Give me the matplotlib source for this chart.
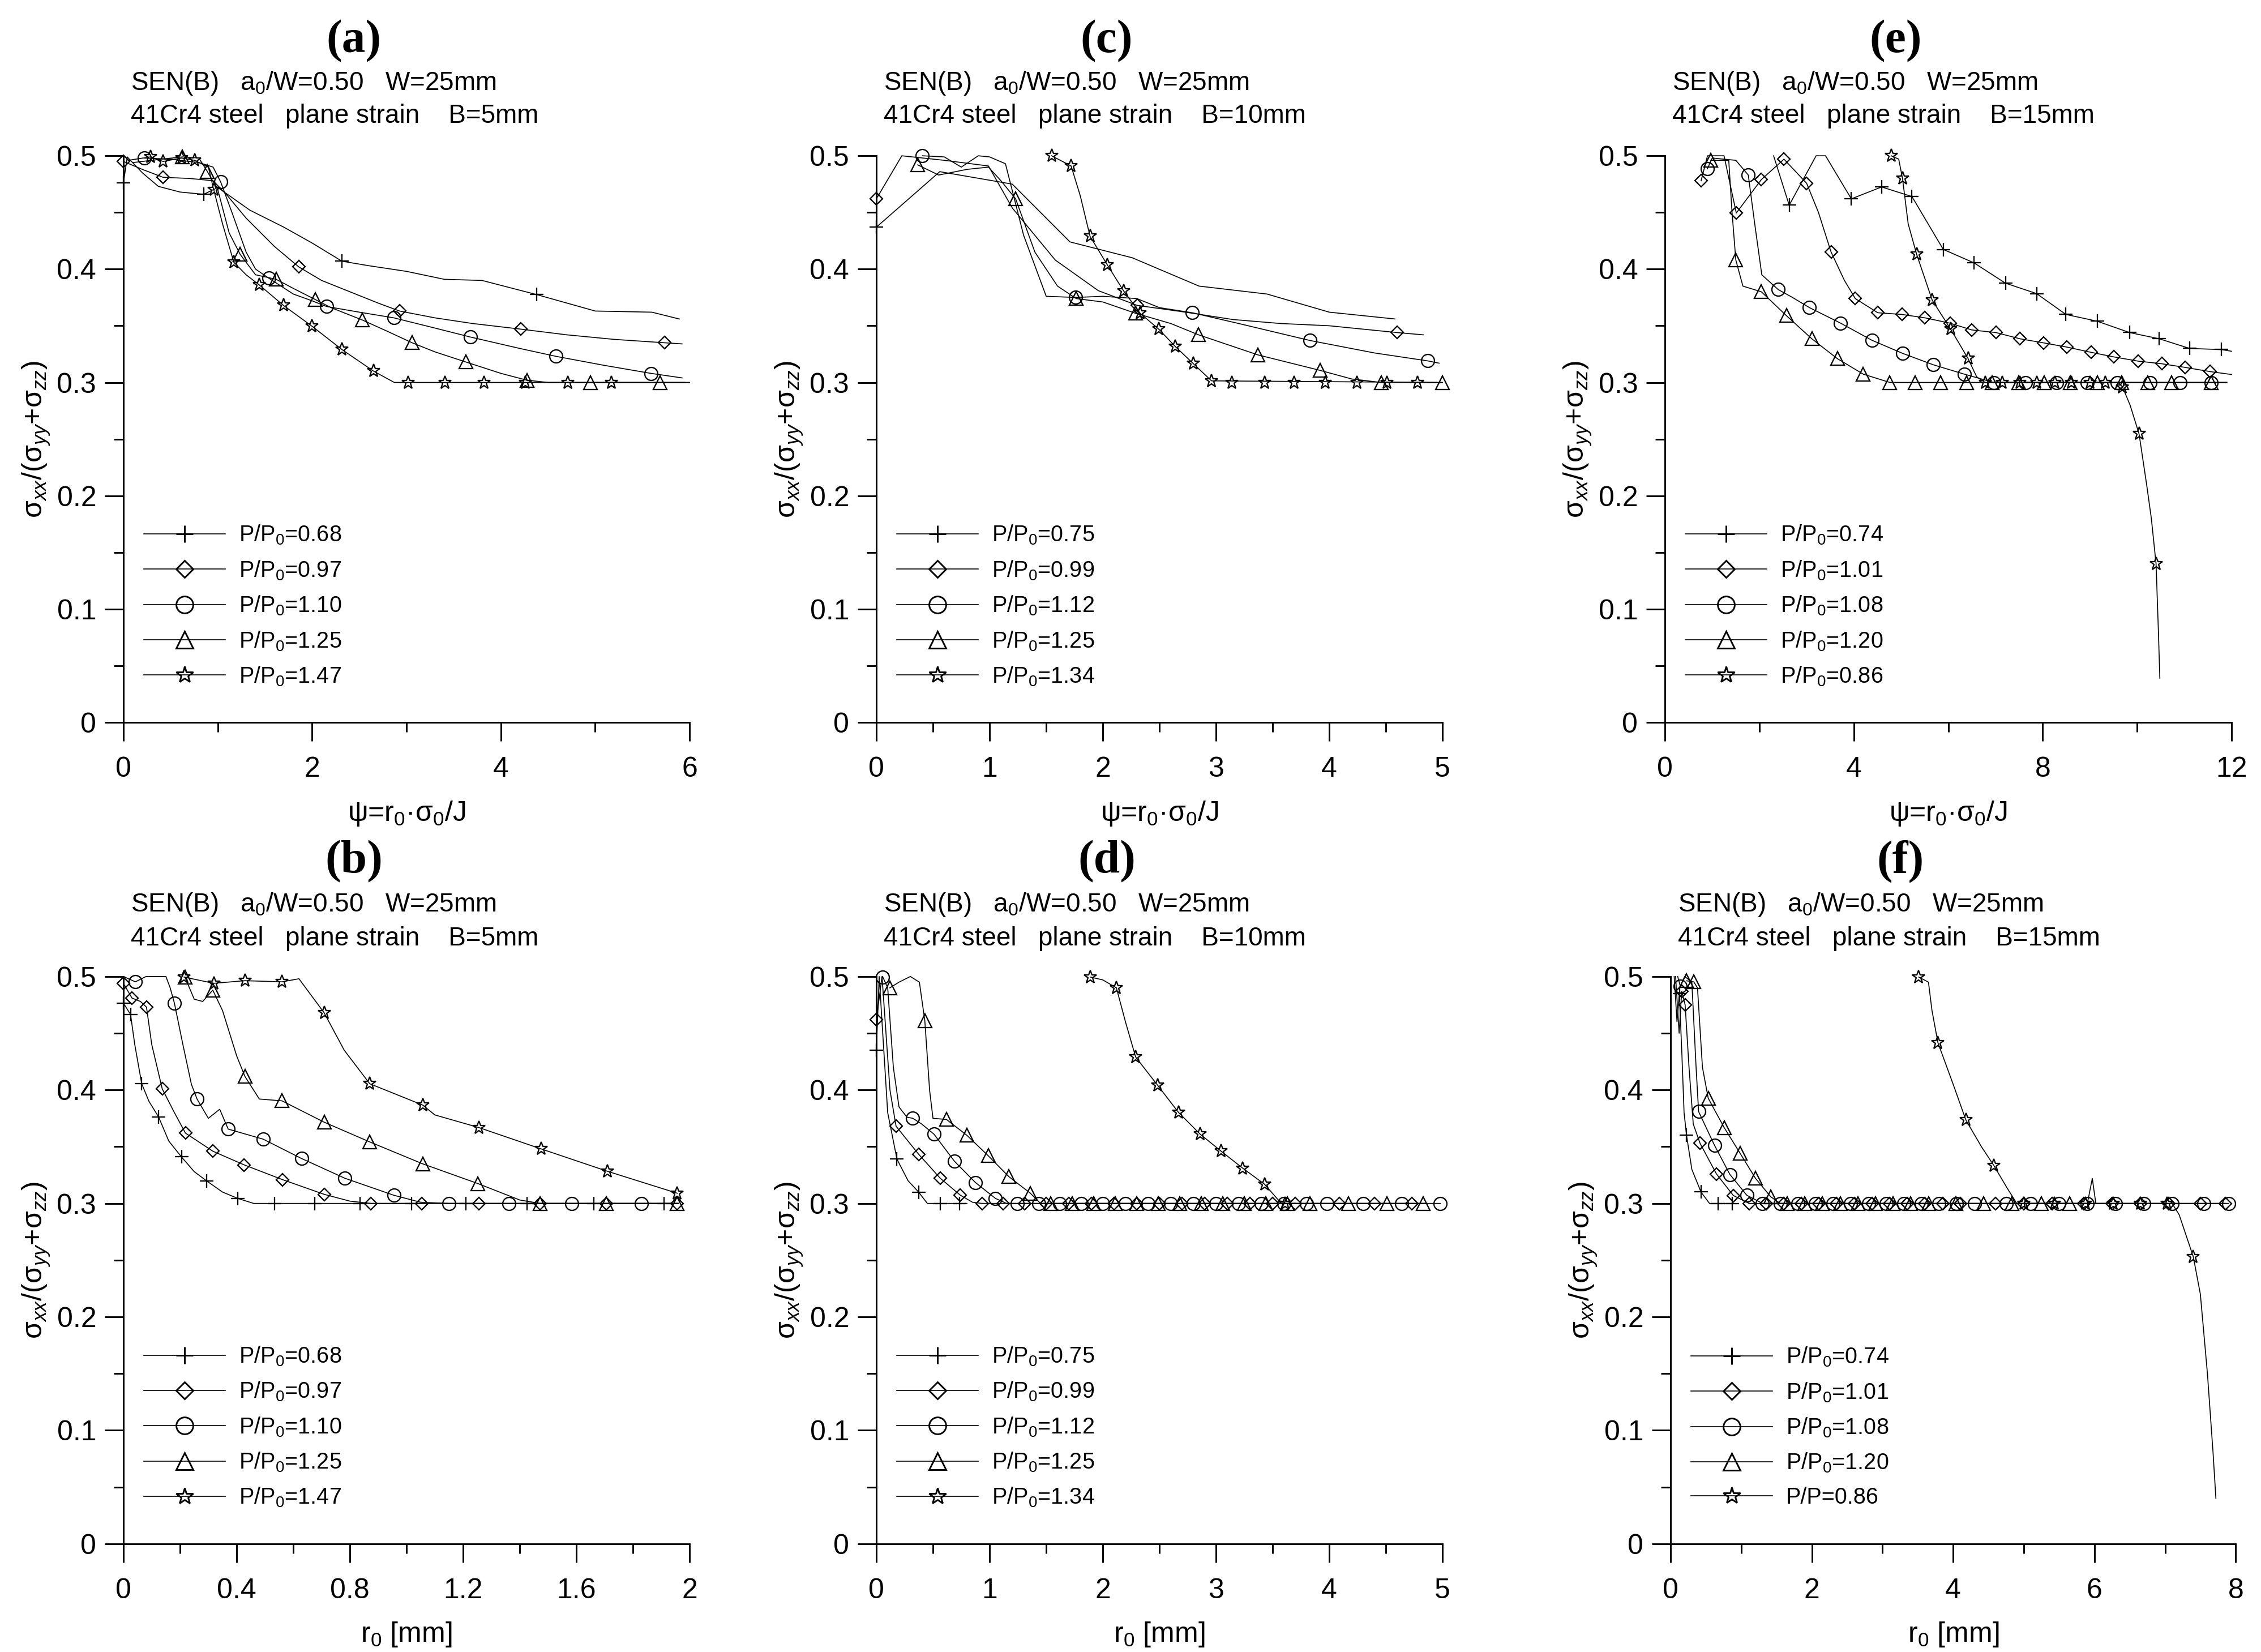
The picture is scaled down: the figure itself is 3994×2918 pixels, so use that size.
import numpy as np
import matplotlib.pyplot as plt
from matplotlib.lines import Line2D
from matplotlib.ticker import MultipleLocator, FuncFormatter

plt.rcParams['font.family'] = ['Liberation Sans', 'DejaVu Sans']
plt.rcParams['mathtext.fontset'] = 'custom'
plt.rcParams['mathtext.rm'] = 'Liberation Sans'
plt.rcParams['mathtext.it'] = 'Liberation Sans:italic'
plt.rcParams['mathtext.bf'] = 'Liberation Sans:bold'

# ---------------- panel (a): psi, B=5mm ----------------
a_labels = ['0.68', '0.97', '1.10', '1.25', '1.47']
a_x = [[0, 0.04, 0.2, 0.37, 0.6, 0.85, 1.0, 1.34, 1.7, 2.0, 2.315, 2.6, 3.0, 3.4, 3.8, 4.38, 5.0, 5.6, 5.89],
       [0, 0.2, 0.42, 0.7, 0.95, 1.1, 1.3, 1.6, 1.857, 2.1, 2.4, 2.7, 2.926, 3.3, 3.7, 4.214, 4.7, 5.2, 5.735, 5.92],
       [0.22, 0.5, 0.8, 0.95, 1.03, 1.15, 1.3, 1.4, 1.54, 1.8, 2.0, 2.153, 2.5, 2.865, 3.3, 3.68, 4.2, 4.585, 5.1, 5.59, 5.92],
       [0.1, 0.4, 0.626, 0.8, 0.89, 1.0, 1.12, 1.237, 1.4, 1.618, 1.8, 2.036, 2.2, 2.534, 2.8, 3.059, 3.3, 3.63, 4.0, 4.275, 4.5, 5.69, 5.95],
       [0.05, 0.285, 0.42, 0.616, 0.753, 0.9, 0.957, 1.05, 1.17, 1.3, 1.44, 1.695, 2.0, 2.316, 2.65, 2.87, 6.0]]
a_y = [[0.476, 0.499, 0.485, 0.473, 0.468, 0.466, 0.472, 0.452, 0.437, 0.423, 0.407, 0.403, 0.398, 0.391, 0.39, 0.3775, 0.363, 0.362, 0.356],
       [0.495, 0.488, 0.481, 0.48, 0.478, 0.465, 0.445, 0.42, 0.402, 0.39, 0.38, 0.37, 0.363, 0.357, 0.352, 0.347, 0.342, 0.338, 0.335, 0.334],
       [0.498, 0.497, 0.494, 0.49, 0.477, 0.45, 0.415, 0.4, 0.392, 0.378, 0.372, 0.367, 0.362, 0.357, 0.348, 0.34, 0.33, 0.323, 0.315, 0.308, 0.304],
       [0.494, 0.497, 0.499, 0.498, 0.486, 0.47, 0.432, 0.413, 0.395, 0.391, 0.383, 0.373, 0.366, 0.355, 0.345, 0.335, 0.327, 0.318, 0.308, 0.302, 0.3, 0.3, 0.3],
       [0.496, 0.499, 0.495, 0.498, 0.496, 0.49, 0.47, 0.44, 0.406, 0.395, 0.386, 0.368, 0.3495, 0.329, 0.31, 0.3, 0.3]]
a_mx = [[0, 0.85, 2.315, 4.38],
        [0, 0.42, 1.857, 2.926, 4.214, 5.735],
        [0.22, 1.03, 1.54, 2.153, 2.865, 3.68, 4.585, 5.59],
        [0.626, 0.89, 1.237, 1.618, 2.036, 2.534, 3.059, 3.63, 4.275, 4.95, 5.69],
        [0.285, 0.42, 0.616, 0.753, 0.957, 1.17, 1.44, 1.695, 2.0, 2.316, 2.65, 3.02, 3.41, 3.82, 4.26, 4.71, 5.17]]
a_my = [[0.476, 0.466, 0.407, 0.3775],
        [0.495, 0.481, 0.402, 0.363, 0.347, 0.335],
        [0.498, 0.477, 0.392, 0.367, 0.357, 0.34, 0.323, 0.308],
        [0.499, 0.486, 0.413, 0.391, 0.373, 0.355, 0.335, 0.318, 0.302, 0.3, 0.3],
        [0.499, 0.495, 0.498, 0.496, 0.47, 0.406, 0.386, 0.368, 0.3495, 0.329, 0.31, 0.3, 0.3, 0.3, 0.3, 0.3, 0.3]]

# ---------------- panel (c): psi, B=10mm ----------------
c_labels = ['0.75', '0.99', '1.12', '1.25', '1.34']
c_x = [[0, 0.56, 1.2, 1.45, 1.71, 2.26, 2.85, 3.45, 4.0, 4.58],
       [0, 0.225, 0.6, 0.99, 1.2, 1.58, 1.96, 2.303, 2.73, 3.15, 3.57, 4.0, 4.6, 4.83],
       [0.407, 0.6, 0.75, 0.9, 1.0, 1.14, 1.3, 1.5, 1.76, 2.0, 2.3, 2.5, 2.79, 3.2, 3.83, 4.4, 4.87, 4.97],
       [0.365, 0.55, 0.8, 0.99, 1.1, 1.23, 1.4, 1.6, 1.765, 2.0, 2.29, 2.6, 2.846, 3.37, 3.92, 4.2, 4.457, 5.0],
       [1.548, 1.72, 1.8, 1.887, 2.04, 2.184, 2.33, 2.494, 2.64, 2.8, 2.96, 4.95]]
c_y = [[0.437, 0.486, 0.475, 0.45, 0.424, 0.41, 0.385, 0.378, 0.362, 0.356],
       [0.462, 0.5, 0.496, 0.491, 0.454, 0.408, 0.381, 0.368, 0.362, 0.3555, 0.352, 0.35, 0.344, 0.342],
       [0.5, 0.499, 0.49, 0.5, 0.499, 0.493, 0.43, 0.376, 0.375, 0.376, 0.374, 0.366, 0.3615, 0.352, 0.337, 0.326, 0.319, 0.317],
       [0.492, 0.483, 0.488, 0.49, 0.478, 0.462, 0.415, 0.385, 0.374, 0.371, 0.361, 0.352, 0.342, 0.3243, 0.3106, 0.303, 0.3, 0.3],
       [0.5, 0.491, 0.465, 0.429, 0.4037, 0.3807, 0.361, 0.347, 0.3317, 0.3165, 0.3014, 0.3]]
c_mx = [[0],
        [0, 2.303, 4.6],
        [0.407, 1.76, 2.79, 3.83, 4.87],
        [0.365, 1.23, 1.765, 2.29, 2.846, 3.37, 3.92, 4.457, 5.0],
        [1.548, 1.72, 1.887, 2.04, 2.184, 2.33, 2.494, 2.64, 2.8, 2.96, 3.14, 3.43, 3.69, 3.965, 4.245, 4.51, 4.78]]
c_my = [[0.437],
        [0.462, 0.368, 0.344],
        [0.5, 0.375, 0.3615, 0.337, 0.319],
        [0.492, 0.462, 0.374, 0.361, 0.342, 0.3243, 0.3106, 0.3, 0.3],
        [0.5, 0.491, 0.429, 0.4037, 0.3807, 0.361, 0.347, 0.3317, 0.3165, 0.3014, 0.3, 0.3, 0.3, 0.3, 0.3, 0.3, 0.3]]

# ---------------- panel (e): psi, B=15mm ----------------
e_labels = ['0.74', '1.01', '1.08', '1.20', '0.86']
e_x = [[2.3, 2.63, 3.2, 3.4, 3.946, 4.588, 5.23, 5.893, 6.545, 7.21, 7.87, 8.49, 9.155, 9.84, 10.47, 11.11, 11.78, 12.0],
       [0.765, 0.9, 1.25, 1.51, 2.04, 2.52, 3.0, 3.25, 3.517, 3.8, 4.03, 4.506, 5.016, 5.506, 6.036, 6.5, 7.01, 7.52, 8.02, 8.51, 9.02, 9.51, 10.02, 10.52, 11.01, 11.54, 12.0],
       [0.897, 1.0, 1.5, 1.764, 1.9, 2.05, 2.396, 2.7, 3.06, 3.72, 4.384, 5.03, 5.68, 6.34, 6.96, 11.9],
       [0.97, 1.35, 1.42, 1.5, 1.65, 2.04, 2.57, 3.11, 3.65, 4.2, 4.76, 11.9],
       [4.79, 4.95, 5.03, 5.15, 5.33, 5.66, 6.05, 6.42, 6.6, 6.78, 9.6, 9.69, 9.85, 10.04, 10.2, 10.3, 10.4, 10.45, 10.48]]
e_y = [[0.5, 0.4564, 0.5, 0.5, 0.462, 0.4725, 0.464, 0.4174, 0.4055, 0.3876, 0.3784, 0.36, 0.354, 0.344, 0.3385, 0.33, 0.329, 0.3275],
       [0.478, 0.5, 0.5, 0.4495, 0.479, 0.497, 0.4757, 0.45, 0.4151, 0.39, 0.374, 0.3615, 0.36, 0.357, 0.3523, 0.3463, 0.344, 0.3385, 0.3349, 0.3312, 0.3266, 0.3225, 0.3188, 0.3165, 0.3133, 0.3096, 0.307],
       [0.4885, 0.498, 0.496, 0.483, 0.44, 0.395, 0.382, 0.375, 0.366, 0.3523, 0.3372, 0.3257, 0.3156, 0.3073, 0.3, 0.3],
       [0.496, 0.496, 0.45, 0.408, 0.385, 0.38, 0.359, 0.3385, 0.321, 0.3073, 0.3, 0.3],
       [0.5, 0.497, 0.48, 0.44, 0.413, 0.3725, 0.347, 0.321, 0.305, 0.3, 0.3, 0.296, 0.28, 0.2546, 0.21, 0.18, 0.14, 0.08, 0.039]]
e_mx = [[2.63, 3.946, 4.588, 5.23, 5.893, 6.545, 7.21, 7.87, 8.49, 9.155, 9.84, 10.47, 11.11, 11.78],
        [0.765, 1.51, 2.04, 2.52, 3.0, 3.517, 4.03, 4.506, 5.016, 5.506, 6.036, 6.5, 7.01, 7.52, 8.02, 8.51, 9.02, 9.51, 10.02, 10.52, 11.01, 11.54],
        [0.897, 1.764, 2.396, 3.06, 3.72, 4.384, 5.03, 5.68, 6.34, 6.96, 7.63, 8.29, 8.94, 9.58, 10.27, 10.91, 11.57],
        [0.97, 1.5, 2.04, 2.57, 3.11, 3.65, 4.2, 4.76, 5.3, 5.84, 6.39, 6.93, 7.49, 8.03, 8.58, 9.16, 9.67, 10.23, 10.73, 11.57],
        [4.79, 5.03, 5.33, 5.66, 6.05, 6.42, 6.78, 7.14, 7.51, 7.87, 8.26, 8.61, 9.0, 9.33, 9.69, 10.04, 10.4]]
e_my = [[0.4564, 0.462, 0.4725, 0.464, 0.4174, 0.4055, 0.3876, 0.3784, 0.36, 0.354, 0.344, 0.3385, 0.33, 0.329],
        [0.478, 0.4495, 0.479, 0.497, 0.4757, 0.4151, 0.374, 0.3615, 0.36, 0.357, 0.3523, 0.3463, 0.344, 0.3385, 0.3349, 0.3312, 0.3266, 0.3225, 0.3188, 0.3165, 0.3133, 0.3096],
        [0.4885, 0.483, 0.382, 0.366, 0.3523, 0.3372, 0.3257, 0.3156, 0.3073, 0.3, 0.3, 0.3, 0.3, 0.3, 0.3, 0.3, 0.3],
        [0.496, 0.408, 0.38, 0.359, 0.3385, 0.321, 0.3073, 0.3, 0.3, 0.3, 0.3, 0.3, 0.3, 0.3, 0.3, 0.3, 0.3, 0.3, 0.3, 0.3],
        [0.5, 0.48, 0.413, 0.3725, 0.347, 0.321, 0.3, 0.3, 0.3, 0.3, 0.3, 0.3, 0.3, 0.3, 0.296, 0.2546, 0.14]]

# ---------------- panel (b): r0, B=5mm ----------------
b_labels = ['0.68', '0.97', '1.10', '1.25', '1.47']
b_x = [[0, 0.025, 0.04, 0.0645, 0.09, 0.124, 0.16, 0.205, 0.25, 0.293, 0.35, 0.404, 0.46, 1.96],
       [0, 0.03, 0.06, 0.0814, 0.1, 0.137, 0.18, 0.219, 0.316, 0.426, 0.5615, 0.709, 0.8, 0.874, 1.96],
       [0, 0.042, 0.08, 0.15, 0.165, 0.18, 0.21, 0.24, 0.26, 0.3, 0.34, 0.37, 0.494, 0.629, 0.782, 0.955, 1.05, 1.15, 1.96],
       [0.217, 0.25, 0.28, 0.3155, 0.35, 0.4, 0.429, 0.48, 0.56, 0.709, 0.87, 1.057, 1.252, 1.4, 1.472, 1.96],
       [0.214, 0.319, 0.429, 0.56, 0.62, 0.709, 0.78, 0.87, 1.057, 1.1, 1.255, 1.476, 1.71, 1.956]]
b_y = [[0.4765, 0.4666, 0.44, 0.4055, 0.39, 0.3763, 0.355, 0.341, 0.328, 0.32, 0.31, 0.3044, 0.3, 0.3],
       [0.494, 0.481, 0.478, 0.473, 0.44, 0.401, 0.38, 0.362, 0.346, 0.334, 0.321, 0.308, 0.302, 0.3, 0.3],
       [0.5, 0.4953, 0.5, 0.5, 0.49, 0.4765, 0.44, 0.405, 0.392, 0.375, 0.383, 0.3655, 0.3566, 0.3396, 0.3222, 0.3072, 0.301, 0.3, 0.3],
       [0.4995, 0.48, 0.478, 0.488, 0.47, 0.43, 0.412, 0.392, 0.3904, 0.3716, 0.3542, 0.3349, 0.3175, 0.303, 0.3, 0.3],
       [0.4995, 0.494, 0.4963, 0.4953, 0.498, 0.468, 0.435, 0.4055, 0.3867, 0.378, 0.3669, 0.348, 0.3283, 0.309]]
b_mx = [[0, 0.025, 0.0645, 0.124, 0.205, 0.293, 0.404, 0.534, 0.675, 0.836, 1.018, 1.21, 1.425, 1.662, 1.909],
        [0, 0.03, 0.0814, 0.137, 0.219, 0.316, 0.426, 0.5615, 0.709, 0.874, 1.053, 1.255, 1.472, 1.705, 1.956],
        [0.042, 0.18, 0.26, 0.37, 0.494, 0.629, 0.782, 0.955, 1.15, 1.362, 1.583, 1.829],
        [0.217, 0.3155, 0.429, 0.56, 0.709, 0.87, 1.057, 1.252, 1.472, 1.705, 1.956],
        [0.214, 0.319, 0.429, 0.56, 0.709, 0.87, 1.057, 1.255, 1.476, 1.71, 1.956]]
b_my = [[0.4765, 0.4666, 0.4055, 0.3763, 0.341, 0.32, 0.3044, 0.3, 0.3, 0.3, 0.3, 0.3, 0.3, 0.3, 0.3],
        [0.494, 0.481, 0.473, 0.401, 0.362, 0.346, 0.334, 0.321, 0.308, 0.3, 0.3, 0.3, 0.3, 0.3, 0.3],
        [0.4953, 0.4765, 0.392, 0.3655, 0.3566, 0.3396, 0.3222, 0.3072, 0.3, 0.3, 0.3, 0.3],
        [0.4995, 0.488, 0.412, 0.3904, 0.3716, 0.3542, 0.3349, 0.3175, 0.3, 0.3, 0.3],
        [0.4995, 0.494, 0.4963, 0.4953, 0.468, 0.4055, 0.3867, 0.3669, 0.348, 0.3283, 0.309]]

# ---------------- panel (d): r0, B=10mm ----------------
d_labels = ['0.75', '0.99', '1.12', '1.25', '1.34']
d_x = [[0, 0.025, 0.1, 0.182, 0.28, 0.373, 0.45, 0.8],
       [0, 0.05, 0.12, 0.174, 0.373, 0.564, 0.742, 0.85, 0.933, 4.85],
       [0.055, 0.1, 0.15, 0.2, 0.27, 0.322, 0.4, 0.509, 0.691, 0.874, 1.052, 1.15, 4.98],
       [0.119, 0.2, 0.3, 0.38, 0.428, 0.47, 0.5, 0.619, 0.8, 0.988, 1.17, 1.36, 1.45, 4.85],
       [1.89, 2.0, 2.12, 2.2, 2.29, 2.485, 2.67, 2.86, 3.045, 3.236, 3.427, 3.55, 3.61, 3.7]]
d_y = [[0.435, 0.5, 0.38, 0.339, 0.32, 0.31, 0.3, 0.3],
       [0.462, 0.5, 0.4, 0.368, 0.3434, 0.3222, 0.3072, 0.301, 0.3, 0.3],
       [0.5, 0.49, 0.42, 0.385, 0.376, 0.375, 0.37, 0.361, 0.337, 0.3185, 0.3044, 0.3, 0.3],
       [0.49, 0.495, 0.5, 0.495, 0.461, 0.4, 0.375, 0.374, 0.36, 0.342, 0.3236, 0.309, 0.3, 0.3],
       [0.4995, 0.497, 0.49, 0.46, 0.429, 0.404, 0.38, 0.361, 0.346, 0.331, 0.317, 0.303, 0.3, 0.3]]
d_mx = [[0, 0.182, 0.373, 0.564, 0.734],
        [0, 0.174, 0.373, 0.564, 0.742, 0.933, 1.12, 1.31, 1.5, 1.7, 1.9, 2.1, 2.3, 2.5, 2.7, 2.9, 3.1, 3.3, 3.5, 3.7, 4.09, 4.4, 4.73],
        [0.055, 0.322, 0.509, 0.691, 0.874, 1.052, 1.243, 1.433, 1.62, 1.81, 2.0, 2.2, 2.4, 2.6, 2.8, 3.0, 3.2, 3.4, 3.6, 3.8, 3.98, 4.3, 4.64, 4.98],
        [0.119, 0.428, 0.619, 0.8, 0.988, 1.17, 1.36, 1.54, 1.73, 1.92, 2.11, 2.3, 2.49, 2.68, 2.87, 3.06, 3.25, 3.44, 3.63, 3.83, 4.17, 4.51, 4.83],
        [1.89, 2.12, 2.29, 2.485, 2.67, 2.86, 3.045, 3.236, 3.427, 3.61]]
d_my = [[0.435, 0.339, 0.31, 0.3, 0.3],
        [0.462, 0.368, 0.3434, 0.3222, 0.3072] + [0.3] * 18,
        [0.4995, 0.375, 0.361, 0.337, 0.3185, 0.3044] + [0.3] * 18,
        [0.49, 0.461, 0.374, 0.36, 0.342, 0.3236, 0.309] + [0.3] * 16,
        [0.4995, 0.49, 0.429, 0.404, 0.38, 0.361, 0.346, 0.331, 0.317, 0.3]]

# ---------------- panel (f): r0, B=15mm ----------------
f_labels = ['0.74', '1.01', '1.08', '1.20', '0.86']
f_x = [[0.05, 0.09, 0.123, 0.16, 0.19, 0.225, 0.3, 0.43, 0.55, 0.9],
       [0.07, 0.12, 0.157, 0.205, 0.26, 0.32, 0.416, 0.648, 0.887, 1.11, 7.85],
       [0.1, 0.136, 0.2, 0.3, 0.36, 0.3956, 0.62, 0.839, 1.078, 1.3, 5.9, 5.97, 6.02, 7.9],
       [0.225, 0.327, 0.38, 0.45, 0.532, 0.757, 0.982, 1.2, 1.418, 1.55, 5.9],
       [3.513, 3.65, 3.7, 3.785, 4.0, 4.18, 4.4, 4.575, 4.75, 4.9, 7.1, 7.2, 7.4, 7.5, 7.6, 7.68, 7.72]]
f_y = [[0.5, 0.46, 0.485, 0.43, 0.38, 0.36, 0.33, 0.31, 0.3, 0.3],
       [0.5, 0.45, 0.487, 0.475, 0.42, 0.37, 0.353, 0.326, 0.307, 0.3, 0.3],
       [0.5, 0.4915, 0.5, 0.495, 0.42, 0.381, 0.3513, 0.3255, 0.3072, 0.3, 0.3, 0.322, 0.3, 0.3],
       [0.4962, 0.4953, 0.49, 0.42, 0.3927, 0.3669, 0.3443, 0.3222, 0.3058, 0.3, 0.3],
       [0.4995, 0.495, 0.47, 0.4415, 0.405, 0.3735, 0.35, 0.3335, 0.315, 0.3, 0.3, 0.29, 0.253, 0.22, 0.15, 0.08, 0.04]]
f_mx = [[0.123, 0.225, 0.43, 0.668, 0.873],
        [0.157, 0.205, 0.416, 0.648, 0.887, 1.11, 1.35, 1.6, 1.85, 2.1, 2.35, 2.6, 2.85, 3.1, 3.35, 3.6, 3.85, 4.1, 4.6, 5.0, 5.4, 5.85, 6.25, 6.65, 7.05, 7.5, 7.85],
        [0.136, 0.3956, 0.62, 0.839, 1.078, 1.3, 1.55, 1.8, 2.05, 2.3, 2.55, 2.8, 3.05, 3.3, 3.55, 3.8, 4.05, 4.3, 4.75, 5.1, 5.5, 5.9, 6.3, 6.7, 7.1, 7.55, 7.9],
        [0.225, 0.327, 0.532, 0.757, 0.982, 1.2, 1.418, 1.65, 1.9, 2.15, 2.4, 2.65, 2.9, 3.15, 3.4, 3.65, 4.04, 4.43, 4.83, 5.25, 5.65],
        [3.513, 3.785, 4.18, 4.575, 5.0, 5.43, 5.87, 6.27, 6.65, 7.03, 7.4]]
f_my = [[0.485, 0.36, 0.3105, 0.3, 0.3],
        [0.487, 0.475, 0.353, 0.326, 0.307] + [0.3] * 22,
        [0.4915, 0.381, 0.3513, 0.3255, 0.3072] + [0.3] * 22,
        [0.4962, 0.4953, 0.3927, 0.3669, 0.3443, 0.3222, 0.3058] + [0.3] * 14,
        [0.4995, 0.4415, 0.3735, 0.3335, 0.3, 0.3, 0.3, 0.3, 0.3, 0.3, 0.253]]

# marker glyph and size (pt) per series
markers = [('+', 5.6), ('D', 3.9), ('o', 5.5), ('^', 5.6), ('*', 5.7)]

psi_label = 'ψ=r$_0$·σ$_0$/J'
r_label = 'r$_0$ [mm]'
y_label = 'σ$_{xx}$/(σ$_{yy}$+σ$_{zz}$)'


def fmt(v, p):
    return '%g' % round(v, 6)


def panel(rect, xs, ys, mxs, mys, labels, xmax, major, minor, xlabel, tag, bval,
          tag_y, last_plain=False):
    ax = fig.add_axes(rect)
    for i in range(5):
        m, ms = markers[i]
        ax.plot(xs[i], ys[i], color='k', lw=0.4, clip_on=False)
        ax.plot(mxs[i], mys[i], ls='none', marker=m, ms=ms, mfc='none', mec='k',
                mew=0.55, clip_on=False)
    ax.set_xlim(0, xmax)
    ax.set_ylim(0, 0.5)
    for s in ['top', 'right']:
        ax.spines[s].set_visible(False)
    for s in ['left', 'bottom']:
        ax.spines[s].set_linewidth(0.7)
    ax.xaxis.set_major_locator(MultipleLocator(major))
    ax.xaxis.set_minor_locator(MultipleLocator(minor))
    ax.yaxis.set_major_locator(MultipleLocator(0.1))
    ax.yaxis.set_minor_locator(MultipleLocator(0.05))
    ax.xaxis.set_major_formatter(FuncFormatter(fmt))
    ax.yaxis.set_major_formatter(FuncFormatter(fmt))
    ax.tick_params(which='major', length=8, width=0.7, labelsize=12)
    ax.tick_params(which='minor', length=4, width=0.7)
    ax.tick_params(axis='x', which='major', pad=6.5)
    ax.tick_params(axis='y', which='major', pad=3.5)
    ax.set_xlabel(xlabel, fontsize=12, labelpad=7)
    ax.set_ylabel(y_label, fontsize=12, labelpad=2)

    handles = []
    texts = []
    for i in range(5):
        m, ms = markers[i]
        handles.append(Line2D([], [], color='k', lw=0.4, marker=m, ms=ms * 1.3,
                              mfc='none', mec='k', mew=0.7))
        if last_plain and i == 4:
            texts.append('P/P=' + labels[i])
        else:
            texts.append('P/P$_0$=' + labels[i])
    ax.legend(handles, texts, loc='center left', bbox_to_anchor=(0.036, 0.206),
              frameon=False, fontsize=9.5, handlelength=3.64, handletextpad=0.6,
              labelspacing=0.55, borderpad=0, borderaxespad=0)

    ax.text(0.013, tag_y[1], 'SEN(B)   a$_0$/W=0.50   W=25mm', transform=ax.transAxes,
            fontsize=11, va='baseline', ha='left')
    ax.text(0.013, tag_y[2], '41Cr4 steel   plane strain    B=' + bval, transform=ax.transAxes,
            fontsize=11, va='baseline', ha='left')
    ax.text(0.407, tag_y[0], tag, transform=ax.transAxes, fontsize=20, fontweight='bold',
            family='Liberation Serif', ha='center', va='center')
    return ax


fig = plt.figure(figsize=(3994 / 300, 2918 / 300), dpi=300)

top_b, top_h = 0.5627, 0.3430
bot_b, bot_h = 0.0655, 0.3434
top_tag = (1.202, 1.116, 1.058)
bot_tag = (1.203, 1.115, 1.055)

panel([0.0546, top_b, 0.2504, top_h], a_x, a_y, a_mx, a_my, a_labels, 6, 2, 1,
      psi_label, '(a)', '5mm', top_tag)
panel([0.3876, top_b, 0.2504, top_h], c_x, c_y, c_mx, c_my, c_labels, 5, 1, 0.5,
      psi_label, '(c)', '10mm', top_tag)
panel([0.7364, top_b, 0.2506, top_h], e_x, e_y, e_mx, e_my, e_labels, 12, 4, 2,
      psi_label, '(e)', '15mm', top_tag)
panel([0.0546, bot_b, 0.2504, bot_h], b_x, b_y, b_mx, b_my, b_labels, 2, 0.4, 0.2,
      r_label, '(b)', '5mm', bot_tag)
panel([0.3876, bot_b, 0.2504, bot_h], d_x, d_y, d_mx, d_my, d_labels, 5, 1, 0.5,
      r_label, '(d)', '10mm', bot_tag)
panel([0.7389, bot_b, 0.2499, bot_h], f_x, f_y, f_mx, f_my, f_labels, 8, 2, 1,
      r_label, '(f)', '15mm', bot_tag, last_plain=True)

fig.savefig('out.png', dpi=300)
